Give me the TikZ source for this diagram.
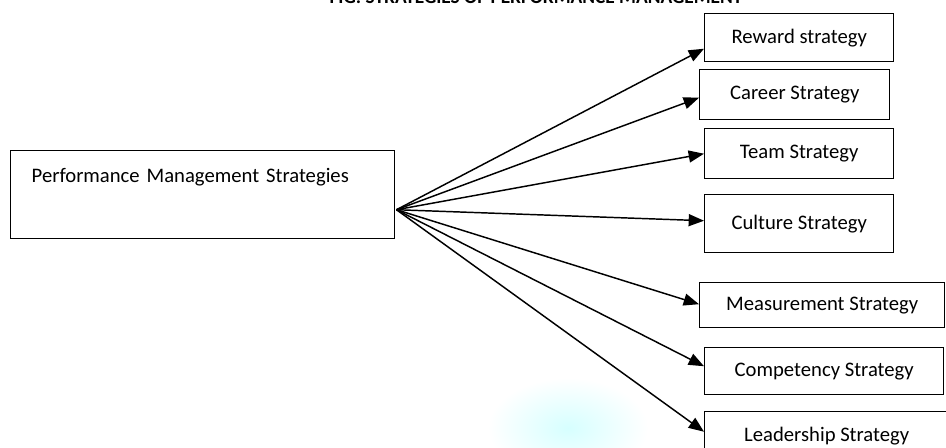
\documentclass[tikz,border=0pt]{standalone}
\usepackage{fontspec}
\setmainfont{Carlito}
\usetikzlibrary{positioning,arrows.meta,calc}

\begin{document}
\begin{tikzpicture}[x=0.75pt,y=-0.75pt,font=\fontsize{15.5}{18}\selectfont,
  blk/.style={draw,line width=1.1pt,inner sep=0pt,anchor=north west,minimum height=36pt},
  ar/.style={-{Triangle[length=11.5pt,width=9pt]},line width=1.1pt}]
\useasboundingbox (0,0) rectangle (946,448);
% faint stamp behind the lower arrows
\shade[inner color=cyan!16,outer color=white] (568,428) ellipse (80 and 50);
\node[anchor=base,font=\fontsize{14.5}{17}\selectfont\bfseries] (title) at (536,3.5)
  {FIG: STRATEGIES OF PERFORMANCE MANAGEMENT};
\node[draw,line width=1.1pt,anchor=north west,inner xsep=15.75pt,inner ysep=0pt,
  text width=256.5pt,align=left,text height=24pt,text depth=42pt] (pms) at (10,150)
  {Performance Management Strategies};
\node[blk,minimum width=141.75pt] (rew) at (704,13) {Reward strategy\hspace{6pt}};
\node[blk,minimum width=142.5pt,minimum height=37.5pt] (car) at (699,69) {Career Strategy\hspace{6pt}};
\node[blk,minimum width=141.75pt,minimum height=37.5pt] (team) at (704,128) {Team Strategy\hspace{12pt}};
\node[blk,minimum width=141.75pt,minimum height=43.5pt] (cult) at (704,194) {Culture Strategy\hspace{6pt}};
\node[blk,minimum width=183.75pt,minimum height=33.75pt] (meas) at (699,282) {Measurement Strategy};
\node[blk,minimum width=179.25pt,minimum height=35.25pt] (comp) at (704,347) {Competency Strategy\hspace{8pt}};
\node[blk,minimum width=183pt,minimum height=36pt] (lead) at (704,411) {Leadership Strategy\hspace{12pt}};
\coordinate (hub) at ($(pms.east)+(1,15)$);
\draw[ar] (hub) -- ($(rew.west)+(0,11)$);
\draw[ar] (hub) -- ($(car.west)+(0,3)$);
\draw[ar] (hub) -- (team.west);
\draw[ar] (hub) -- ($(cult.west)+(0,-3)$);
\draw[ar] (hub) -- ($(meas.west)+(0,-1)$);
\draw[ar] (hub) -- ($(comp.west)+(0,-5)$);
\draw[ar] (hub) -- ($(lead.west)+(0,-4)$);
\end{tikzpicture}
\end{document}
